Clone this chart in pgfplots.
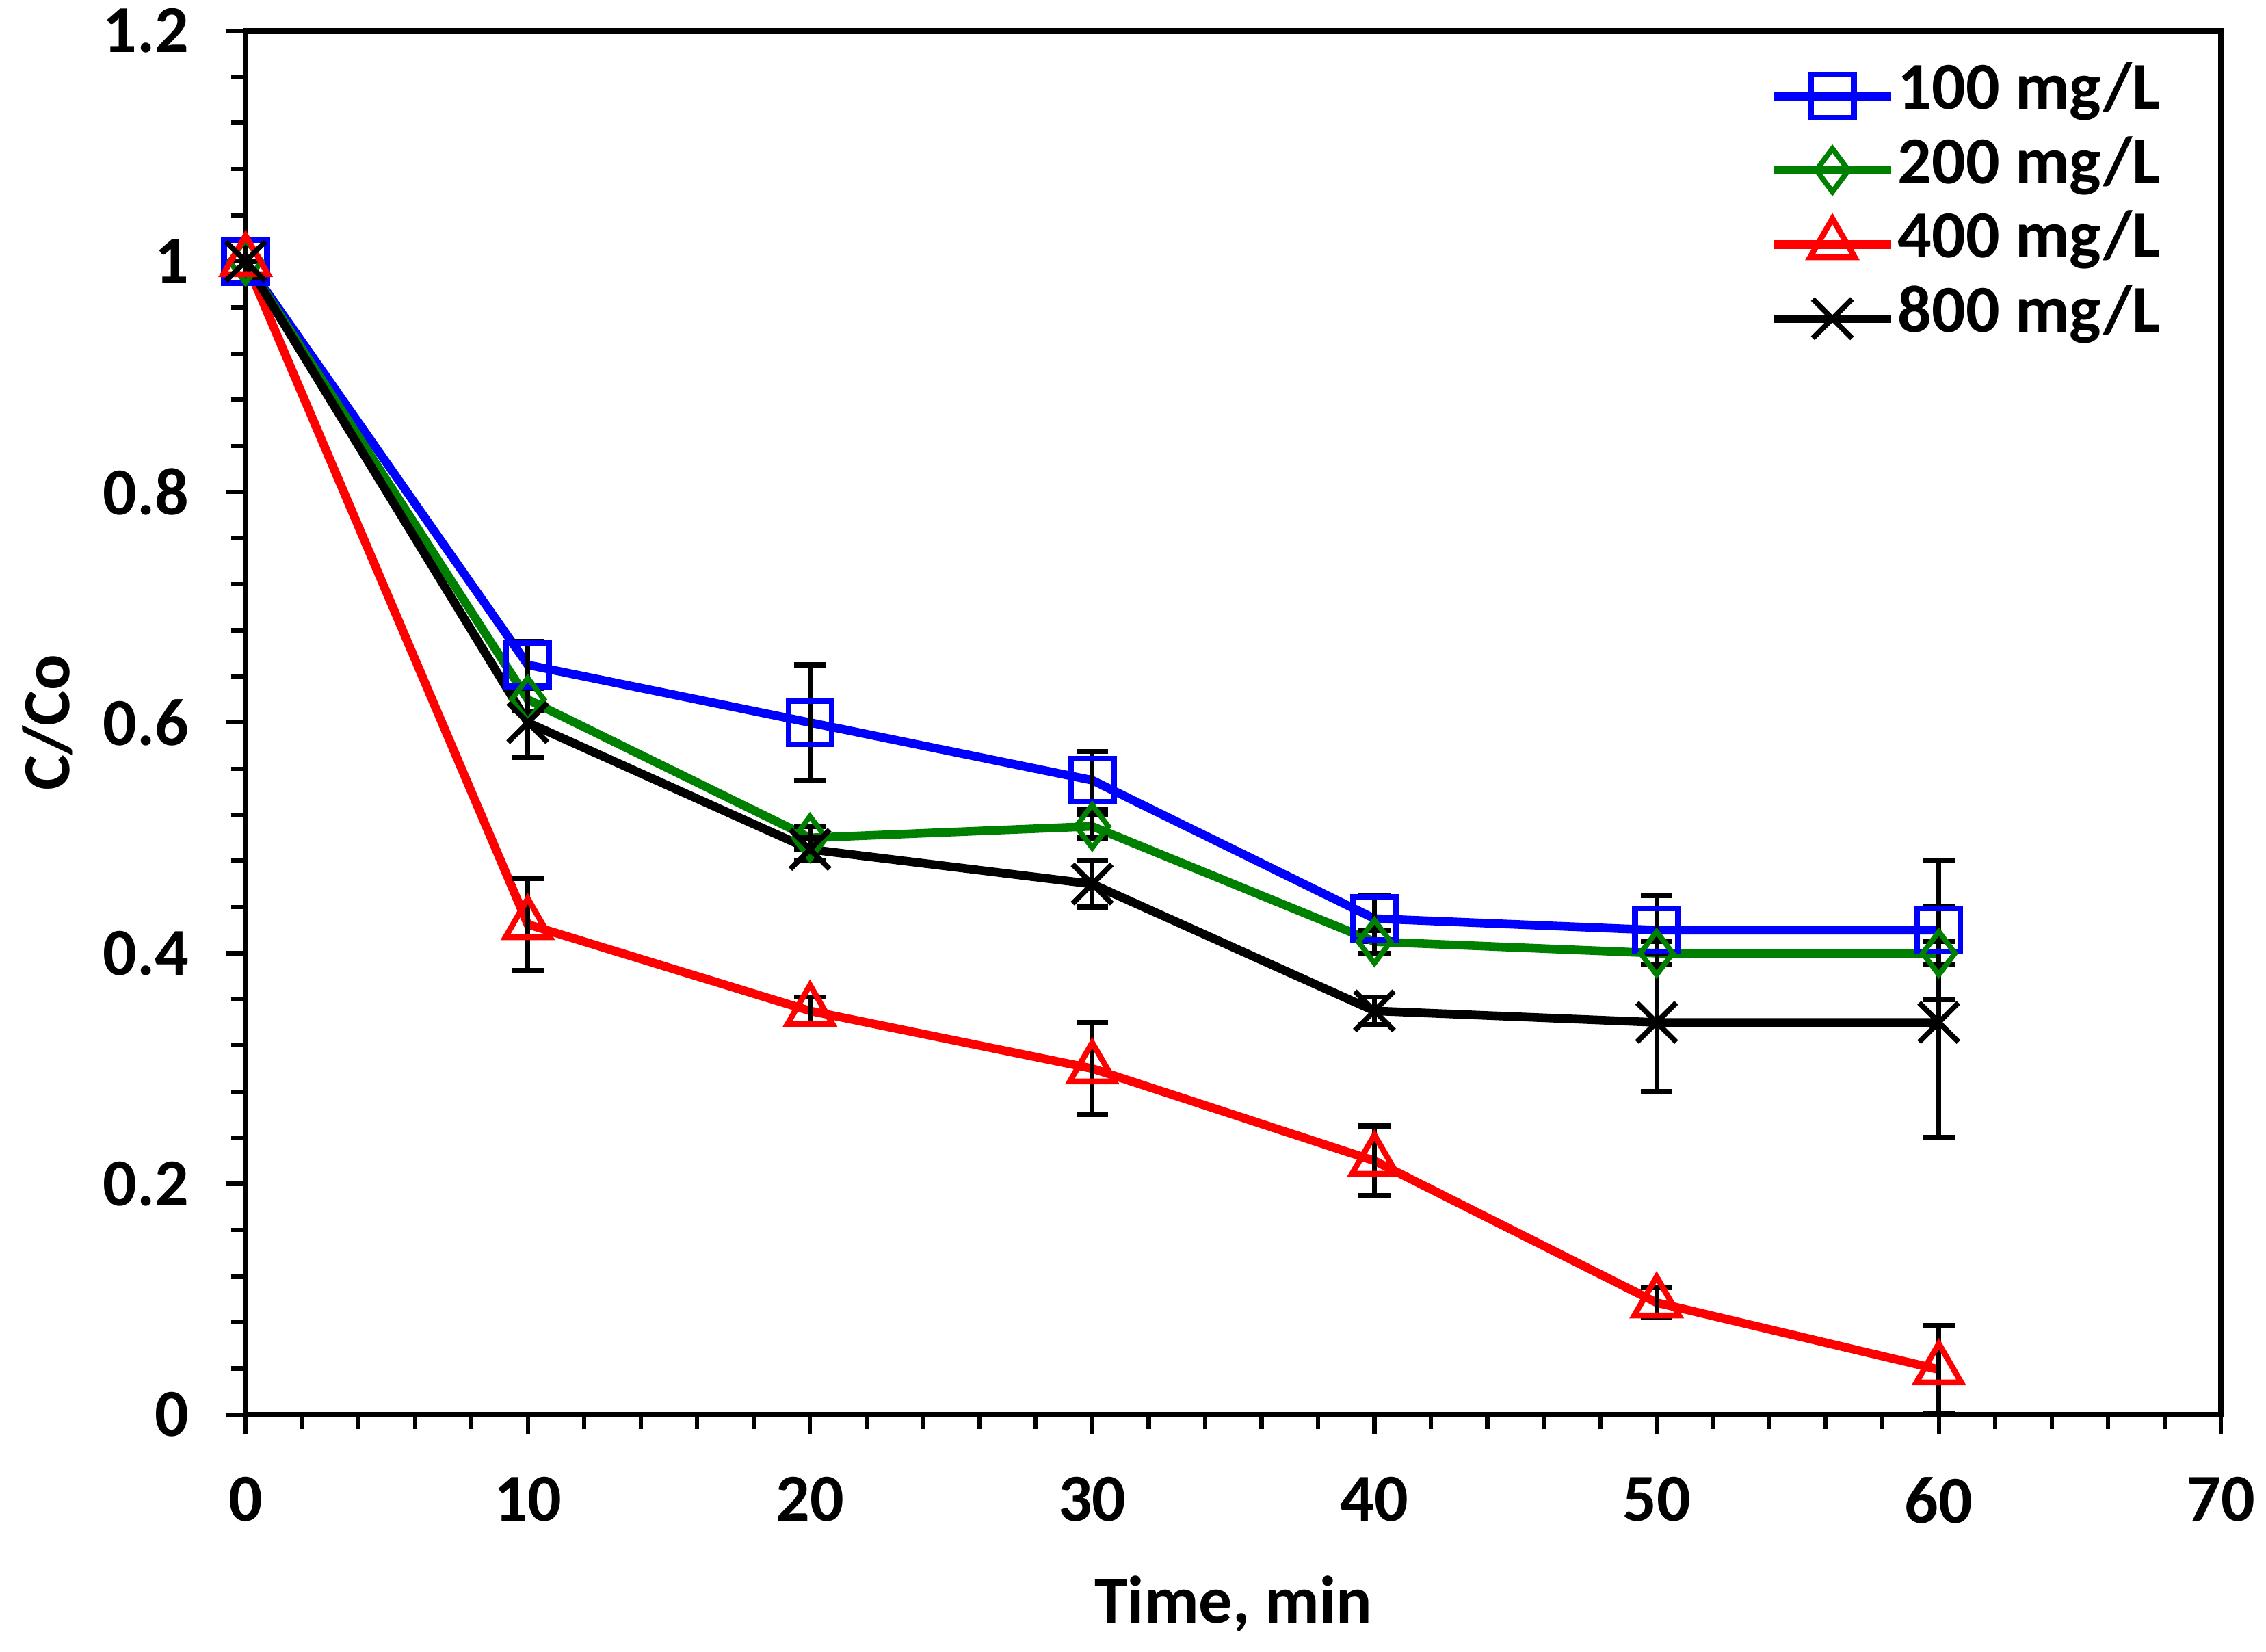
\documentclass[border=0pt]{standalone}
\usepackage{pgfplots}
\pgfplotsset{compat=1.18}
\usepackage{fontspec}
\setmainfont{Carlito}
\definecolor{cblue}{RGB}{0,0,255}
\definecolor{cgreen}{RGB}{0,128,0}
\definecolor{cred}{RGB}{255,0,0}
\pgfplotstableread{
x y e
0 1.00 0
10 0.65 0.02
20 0.60 0.05
30 0.55 0.025
40 0.43 0.02
50 0.42 0.03
60 0.42 0.06
}\tblA
\pgfplotstableread{
x y e
0 1.00 0
10 0.62 0.01
20 0.50 0.01
30 0.51 0.01
40 0.41 0.01
50 0.40 0.01
60 0.40 0.01
}\tblB
\pgfplotstableread{
x y e
0 1.00 0
10 0.425 0.04
20 0.35 0.012
30 0.30 0.04
40 0.22 0.03
50 0.097 0.013
60 0.039 0.038
}\tblC
\pgfplotstableread{
x y e
0 1.00 0
10 0.60 0.03
20 0.49 0.01
30 0.46 0.02
40 0.35 0.012
50 0.34 0.06
60 0.34 0.10
}\tblD
\begin{document}
\begin{tikzpicture}
\begin{axis}[
  scale only axis, width=412.6pt, height=289pt,
  xmin=0, xmax=70, ymin=0, ymax=1.2,
  xtick={0,10,20,30,40,50,60,70},
  ytick={0,0.2,0.4,0.6,0.8,1,1.2},
  minor x tick num=4, minor y tick num=4,
  tick align=outside, xtick pos=left, ytick pos=left,
  major tick length=4pt, minor tick length=3pt,
  axis line style={line width=1.1pt},
  every tick/.style={black, line width=0.9pt},
  /pgf/number format/assume math mode=true,
  tick label style={font=\fontsize{14}{16}\selectfont\bfseries},
  yticklabel style={xshift=-4.3pt},
  xticklabel style={yshift=-5.6pt},
  every axis x label/.style={at={([yshift=-43.6pt]rel axis cs:0.5,0)}, anchor=base, font=\fontsize{14}{16}\selectfont\bfseries},
  every axis y label/.style={at={([xshift=-41.4pt]rel axis cs:0,0.5)}, anchor=center, rotate=90, font=\fontsize{14}{16}\selectfont\bfseries},
  xlabel={Time, min},
  ylabel={C/Co},
  legend cell align=left,
  legend image code/.code={\draw[mark repeat=2,mark phase=2] plot coordinates {(0pt,0pt) (12.3pt,0pt) (24.6pt,0pt)};},
  legend style={at={([yshift=-5.7pt]rel axis cs:0.7708,1)}, anchor=north west, draw=none, fill=none,
    inner sep=0pt, row sep=0pt, font=\fontsize{14}{16}\selectfont\bfseries,
    nodes={inner sep=0pt, text height=10.5pt, text depth=5pt},
    /tikz/every odd column/.append style={column sep=0.5pt}},
  error bars/error bar style={black, line width=1pt},
  error bars/error mark options={rotate=90, mark size=3.3pt, black, line width=1.1pt},
]
\addplot[cblue, line width=1.8pt, mark=square, mark size=4.5pt, mark options={fill=white, solid, line width=1.2pt},
  error bars/.cd, y dir=both, y explicit] table[x=x, y=y, y error=e] {\tblA};
\addlegendentry{100 mg/L}
\addplot[cgreen, line width=1.8pt, mark=diamond, mark size=4.5pt, mark options={fill=white, solid, line width=1.1pt},
  error bars/.cd, y dir=both, y explicit] table[x=x, y=y, y error=e] {\tblB};
\addlegendentry{200 mg/L}
\addplot[cred, line width=1.8pt, mark=triangle, mark size=5.4pt, mark options={fill=white, solid, line width=1.2pt},
  error bars/.cd, y dir=both, y explicit] table[x=x, y=y, y error=e] {\tblC};
\addlegendentry{400 mg/L}
\addplot[black, line width=1.8pt, mark=x, mark size=5.8pt, mark options={solid, line width=1.1pt},
  error bars/.cd, y dir=both, y explicit] table[x=x, y=y, y error=e] {\tblD};
\addlegendentry{800 mg/L}
\coordinate (bl) at (rel axis cs:0,0);
\coordinate (tr) at (rel axis cs:1,1);
\end{axis}
\pgfresetboundingbox
\path[use as bounding box] ([shift={(-51.3pt,-49.6pt)}]bl) rectangle ([shift={(9.4pt,6.4pt)}]tr);
\end{tikzpicture}
\end{document}
